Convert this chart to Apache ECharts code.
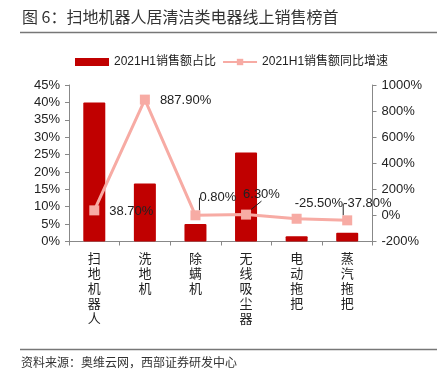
<!DOCTYPE html>
<html><head><meta charset="utf-8">
<script src="https://cdn.jsdelivr.net/npm/echarts@6/dist/echarts.min.js"></script>
<style>html,body{margin:0;padding:0;background:#fff;}#c{width:442px;height:383px;}</style>
</head><body><div id="c"></div>
<script>
var categories = ['扫地机器人', '洗地机', '除螨机', '无线吸尘器', '电动拖把', '蒸汽拖把'];
var shareValues = [40, 16.7, 5.0, 25.6, 1.5, 2.5];
var growthValues = [38.7, 887.9, 0.8, 6.3, -25.5, -37.8];
var leftTicks = {min: 0, max: 45, interval: 5};
var rightTicks = {min: -200, max: 1000, interval: 200};
var seriesNames = ['2021H1销售额占比', '2021H1销售额同比增速'];
// label placement relative to each marker centre (style only)
var labelOffsets = [[15, 1], [15, 1], [4, -17.5], [-3, -20], [-2, -15], [-4, -16.5]];
var labelLines = [false, false, true, true, false, true];

var chart = echarts.init(document.getElementById('c'), null, {renderer: 'canvas'});
var font = 'Liberation Sans, Arial, Noto Sans CJK SC, sans-serif';
var cjk = 'Noto Sans CJK SC, sans-serif';
var lineData = growthValues.map(function (v, i) {
  return {value: v, labelLine: {show: labelLines[i]}};
});
chart.setOption({
  animation: false,
  textStyle: {fontFamily: font},
  graphic: [
    {type: 'text', left: 22, top: 9, style: {text: '图 6：扫地机器人居清洁类电器线上销售榜首', font: '16px Noto Sans CJK SC', fill: '#333'}},
    {type: 'line', shape: {x1: 20, y1: 32.5, x2: 437, y2: 32.5}, style: {stroke: '#777', lineWidth: 1.5}},
    {type: 'line', shape: {x1: 20, y1: 349.5, x2: 437, y2: 349.5}, style: {stroke: '#777', lineWidth: 1.5}},
    {type: 'text', left: 21, top: 356, style: {text: '资料来源：奥维云网，西部证券研发中心', font: '12px Noto Sans CJK SC', fill: '#333'}}
  ],
  legend: {
    top: 56, left: 75, padding: 0, itemWidth: 34, itemHeight: 8, itemGap: 6,
    textStyle: {fontSize: 12, color: '#222', fontFamily: font},
    data: [
      {name: seriesNames[0], icon: 'rect'},
      {name: seriesNames[1]}
    ]
  },
  grid: {left: 69, right: 69.5, top: 85, bottom: 141.5},
  xAxis: {
    type: 'category', data: categories,
    axisLine: {lineStyle: {color: '#888'}},
    axisTick: {show: true, length: 4, lineStyle: {color: '#888'}},
    axisLabel: {
      interval: 0, margin: 9, color: '#222', fontSize: 13, fontFamily: cjk, lineHeight: 15,
      verticalAlign: 'top',
      formatter: function (v) { return v.split('').join('\n'); }
    }
  },
  yAxis: [
    {type: 'value', min: leftTicks.min, max: leftTicks.max, interval: leftTicks.interval,
     splitLine: {show: false},
     axisLine: {show: true, lineStyle: {color: '#888'}},
     axisTick: {show: true, length: 4, lineStyle: {color: '#888'}},
     axisLabel: {formatter: function (v) { return v + '%'; }, color: '#222', fontSize: 13, margin: 9}},
    {type: 'value', min: rightTicks.min, max: rightTicks.max, interval: rightTicks.interval,
     splitLine: {show: false},
     axisLine: {show: true, lineStyle: {color: '#888'}},
     axisTick: {show: true, length: 4, lineStyle: {color: '#888'}},
     axisLabel: {formatter: function (v) { return v + '%'; }, color: '#222', fontSize: 13, margin: 9}}
  ],
  series: [
    {name: seriesNames[0], type: 'bar', yAxisIndex: 0, data: shareValues, barWidth: 22,
     itemStyle: {color: '#C00000', borderRadius: 1}},
    {name: seriesNames[1], type: 'line', yAxisIndex: 1, data: lineData,
     symbol: 'rect', symbolSize: 10,
     lineStyle: {color: '#F7ABA4', width: 3},
     itemStyle: {color: '#F7ABA4'},
     label: {show: true, position: 'right', distance: 5, color: '#222', fontSize: 13, fontFamily: font,
       formatter: function (p) { return Number(p.value).toFixed(2) + '%'; }},
     labelLine: {lineStyle: {color: '#222', width: 1}, smooth: false},
     labelLayout: function (p) {
       var o = labelOffsets[p.dataIndex];
       var cx = p.rect.x + p.rect.width / 2, cy = p.rect.y + p.rect.height / 2;
       return {x: cx + o[0], y: cy + o[1], align: 'left', verticalAlign: 'middle', hideOverlap: false};
     },
     z: 5}
  ]
});
</script></body></html>
